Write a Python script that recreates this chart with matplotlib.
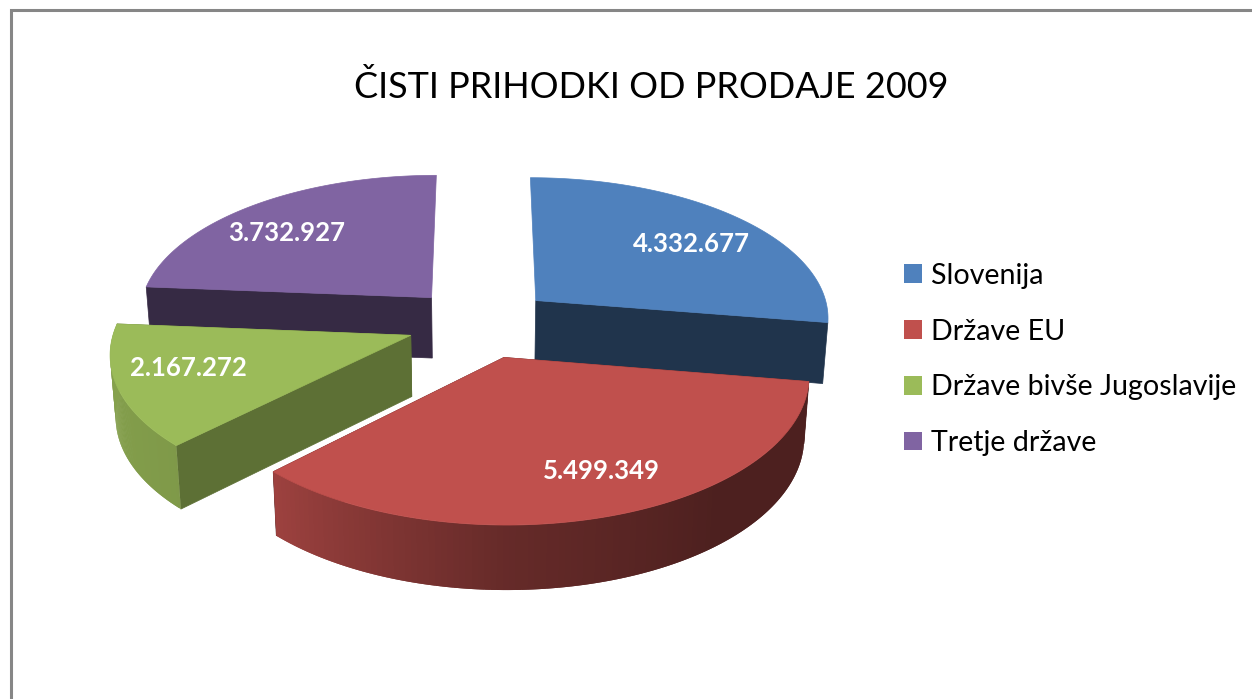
import numpy as np
import matplotlib
matplotlib.use('Agg')
import matplotlib.pyplot as plt
from matplotlib.colors import to_rgb
from matplotlib.patches import Patch, Polygon

plt.rcParams['font.family'] = ['Lato', 'DejaVu Sans']

title = 'ČISTI PRIHODKI OD PRODAJE 2009'
categories = ['Slovenija', 'Države EU', 'Države bivše Jugoslavije', 'Tretje države']
values = [4332677, 5499349, 2167272, 3732927]
value_labels = ['4.332.677', '5.499.349', '2.167.272', '3.732.927']
colors = ['#4f81bd', '#c0504d', '#9bbb59', '#8064a2']

# projection of the tilted pie, fitted to the picture (pixels)
cx, cy = 480.6, 323
rx, ry = 295, 141
persp = 0.11
persp_depth = 0.05
explode = 0.25
depth = 61
bottom_shrink = 0.985

cut_shade = [0.4, 0.4, 0.6, 0.42]
label_r = [0.72, 0.70, 0.80, 0.74]
label_shift = [(7, 4), (25, 6), (11, -8), (-11, 5)]


def project(theta, r, mid, z=0):
    X = r * np.sin(theta) + explode * np.sin(mid)
    V = -r * np.cos(theta) - explode * np.cos(mid)
    s = 1 / (1 - persp * V)
    sx = cx + rx * X * s
    sy = cy + ry * V * s
    if z:
        sx = cx + (sx - cx) * bottom_shrink
        sy = sy + z / (1 - persp_depth * V)
    return sx, sy


def shade(color, f):
    return tuple(c * f for c in to_rgb(color))


def wall_shade(deg):
    return np.interp(deg, [99, 140, 180, 225, 275], [0.4, 0.4, 0.53, 0.82, 0.87])


fig = plt.figure(figsize=(12.52, 6.99), dpi=100)
ax = fig.add_axes([0, 0, 1, 1])
ax.set_xlim(0, 1252)
ax.set_ylim(699, 0)
ax.axis('off')

ax.plot([10.5, 10.5, 1252], [699, 9.5, 9.5], color='#868686', lw=2.2, solid_joinstyle='miter')

ends = np.cumsum(values) / np.sum(values) * 2 * np.pi
starts = np.r_[0, ends[:-1]]
mids = (starts + ends) / 2
front0, front1 = ends[0], ends[2]  # the outer wall only shows between these

# back slices first, the red one lies in front of all others
for i in [3, 0, 2, 1]:
    a0, a1, mid = starts[i], ends[i], mids[i]
    apex = project(a0, 0, mid)
    apex_low = project(a0, 0, mid, depth)
    for a in (a0, a1):
        if a < 0.01 or a > 6.28:  # the cut at 12 o'clock faces away
            continue
        p = project(a, 1, mid)
        q = project(a, 1, mid, depth)
        c = shade(colors[i], cut_shade[i])
        ax.add_patch(Polygon([apex, p, q, apex_low], fc=c, ec=c, lw=0.5))
    th = np.linspace(a0, a1, 120)
    if a0 >= front0 - 1e-6 and a1 <= front1 + 1e-6:
        # each strip runs on under the next one so no seams show
        for j in range(len(th) - 1):
            t0, t1 = th[j], th[min(j + 2, len(th) - 1)]
            c = shade(colors[i], wall_shade(np.degrees((th[j] + th[j + 1]) / 2)))
            quad = [project(t0, 1, mid), project(t1, 1, mid),
                    project(t1, 1, mid, depth), project(t0, 1, mid, depth)]
            ax.add_patch(Polygon(quad, fc=c, ec='none'))
    sx, sy = project(th, 1, mid)
    top = np.vstack([apex, np.column_stack([sx, sy])])
    ax.add_patch(Polygon(top, fc=colors[i], ec=colors[i], lw=0.5))
    lx, ly = project(mid, label_r[i], mid)
    ax.text(lx + label_shift[i][0], ly + label_shift[i][1], value_labels[i], color='white',
            fontsize=18.5, fontweight='bold', ha='center', va='center')

ax.text(651, 87, title, fontsize=25.9, ha='center', va='center', color='black')

handles = [Patch(fc=c, ec='none') for c in colors]
ax.legend(handles, categories, loc='center left', bbox_to_anchor=(904, 359.5),
          bbox_transform=ax.transData, frameon=False, fontsize=20.6,
          handlelength=0.63, handleheight=0.63, handletextpad=0.33,
          labelspacing=1.04, borderpad=0, borderaxespad=0)

fig.savefig('out.png', dpi=100)
